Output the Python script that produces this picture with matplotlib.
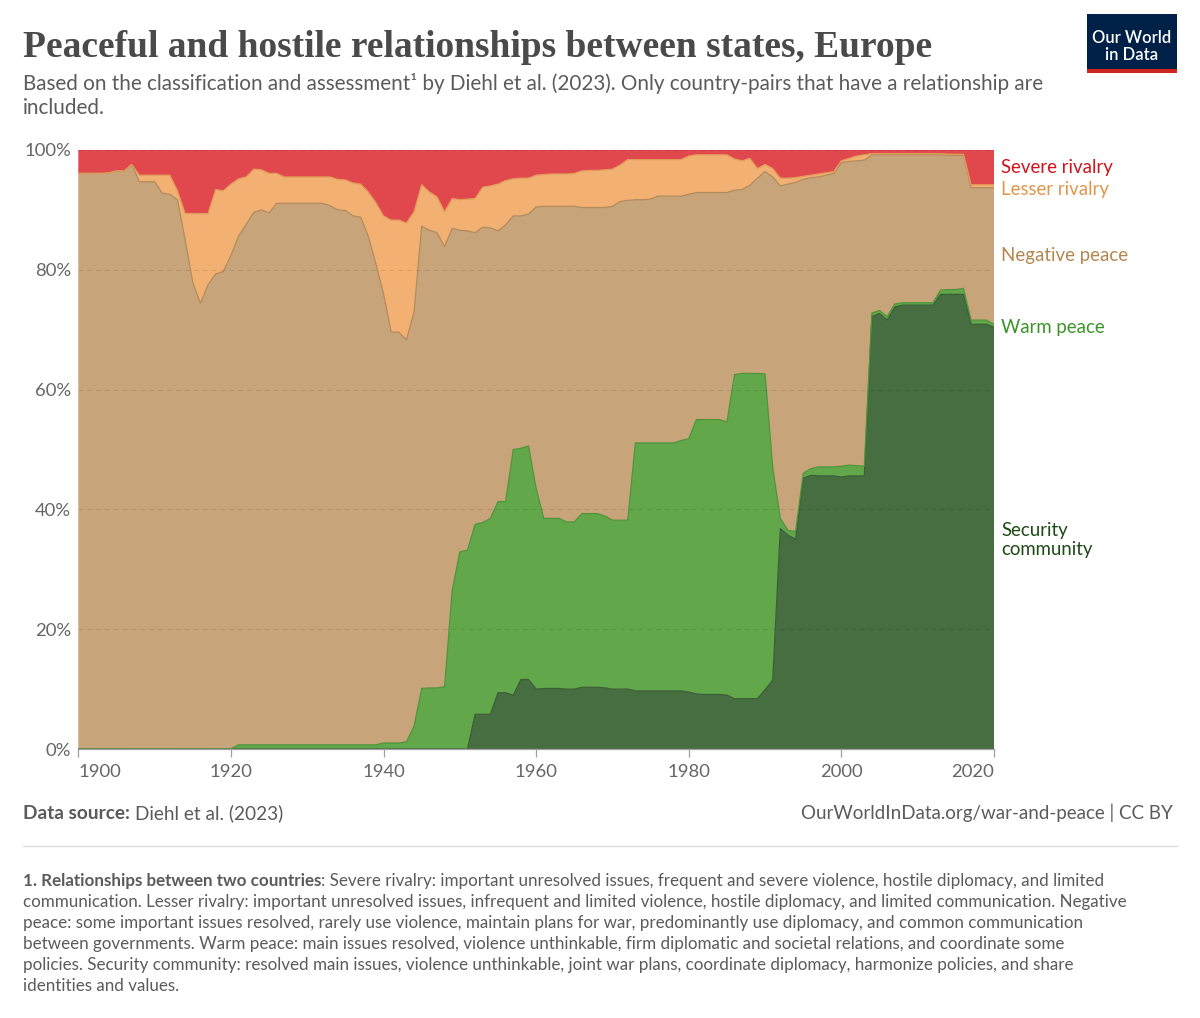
import matplotlib
matplotlib.use("Agg")
import matplotlib.pyplot as plt
import numpy as np
from matplotlib.patches import Rectangle

# ---------------- data (share of country-pairs, %) ----------------
years = list(range(1900, 2021))

security_community = (
    [0.0] * 52 +                                                   # 1900-1951
    [5.8, 5.8, 5.8, 9.4, 9.4, 9.0, 11.6, 11.6,                     # 1952-1959
     10.0, 10.1, 10.1, 10.1, 10.0, 10.0, 10.3, 10.3, 10.3, 10.2,   # 1960s
     10.0, 10.0, 10.0, 9.7, 9.7, 9.7, 9.7, 9.7, 9.7, 9.7,          # 1970s
     9.5, 9.2, 9.1, 9.1, 9.1, 9.0, 8.4, 8.4, 8.4, 8.4,             # 1980s
     9.9, 11.5, 36.8, 35.7, 35.0, 45.2, 45.7, 45.6, 45.6, 45.6,    # 1990s
     45.4, 45.6, 45.6, 45.6, 72.2, 72.7, 71.6, 73.8, 74.1, 74.1,   # 2000s
     74.1, 74.1, 74.1, 75.9, 75.9, 75.9, 75.9, 70.9, 70.9, 70.9,   # 2010s
     70.4]                                                         # 2020
)

warm_peace = (
    [0.0] * 21 +                                                   # 1900-1920
    [0.7] * 19 +                                                   # 1921-1939
    [1.0, 1.0, 1.0, 1.2, 3.8, 10.1, 10.2, 10.2, 10.4, 26.5,        # 1940s
     32.9, 33.2, 31.7, 32.0, 32.7, 31.9, 31.9, 41.0, 38.6, 39.0,   # 1950s
     33.5, 28.4, 28.4, 28.4, 27.9, 27.9, 29.0, 29.0, 29.0, 28.7,   # 1960s
     28.2, 28.2, 28.2, 41.4, 41.4, 41.4, 41.4, 41.4, 41.4, 41.8,   # 1970s
     42.3, 45.8, 45.9, 45.9, 45.9, 45.6, 54.1, 54.3, 54.3, 54.3,   # 1980s
     52.7, 35.5, 1.7, 0.8, 1.3, 0.8, 1.1, 1.5, 1.5, 1.5,           # 1990s
     1.8, 1.8, 1.7, 1.6, 0.6, 0.5, 0.6, 0.5, 0.4, 0.4,             # 2000s
     0.4, 0.4, 0.4, 0.7, 0.8, 0.8, 1.0, 0.7, 0.7, 0.7,             # 2010s
     0.5]                                                          # 2020
)

negative_peace = [
    96.1, 96.1, 96.1, 96.1, 96.2, 96.5, 96.5, 97.6, 94.7, 94.7,    # 1900s
    94.7, 92.8, 92.6, 91.7, 85.0, 77.9, 74.4, 77.5, 79.3, 79.7,    # 1910s
    82.4, 84.9, 86.9, 88.9, 89.3, 88.8, 90.4, 90.4, 90.4, 90.4,    # 1920s
    90.4, 90.4, 90.4, 90.0, 89.3, 89.2, 88.3, 88.1, 84.9, 80.3,    # 1930s
    75.0, 68.6, 68.6, 67.1, 69.2, 77.2, 76.4, 76.0, 73.5, 60.4,    # 1940s
    53.7, 53.3, 48.7, 49.3, 48.5, 45.2, 46.2, 39.0, 38.8, 38.7,    # 1950s
    47.0, 52.1, 52.1, 52.1, 52.7, 52.7, 51.1, 51.1, 51.1, 51.5,    # 1960s
    52.4, 53.2, 53.4, 40.6, 40.6, 40.7, 41.2, 41.2, 41.2, 40.8,    # 1970s
    40.8, 37.9, 37.9, 37.9, 37.9, 38.3, 30.8, 30.7, 31.4, 32.6,    # 1980s
    33.8, 48.5, 55.5, 57.8, 58.3, 49.1, 48.6, 48.4, 48.7, 49.0,    # 1990s
    50.7, 50.7, 50.9, 51.1, 26.4, 26.0, 27.0, 24.9, 24.7, 24.7,    # 2000s
    24.7, 24.7, 24.7, 22.6, 22.4, 22.4, 22.2, 22.1, 22.1, 22.1,    # 2010s
    22.8,                                                          # 2020
]

lesser_rivalry = [
    0.0, 0.0, 0.0, 0.0, 0.0, 0.0, 0.0, 0.0, 1.1, 1.1,              # 1900s
    1.1, 3.0, 3.2, 1.5, 4.4, 11.5, 15.0, 11.9, 14.1, 13.5,         # 1910s
    11.9, 9.6, 7.9, 7.2, 6.7, 6.6, 5.0, 4.4, 4.4, 4.4,             # 1920s
    4.4, 4.4, 4.4, 4.8, 5.1, 5.1, 5.5, 5.5, 7.4, 10.2,             # 1930s
    13.0, 18.7, 18.7, 19.5, 16.7, 6.9, 6.4, 6.0, 5.8, 5.0,         # 1940s
    5.1, 5.3, 5.7, 6.7, 7.0, 7.8, 7.4, 6.2, 6.3, 6.0,              # 1950s
    5.3, 5.3, 5.4, 5.4, 5.4, 5.5, 6.1, 6.2, 6.2, 6.3,              # 1960s
    6.2, 6.1, 6.8, 6.7, 6.7, 6.6, 6.1, 6.1, 6.1, 6.1,              # 1970s
    6.4, 6.3, 6.3, 6.3, 6.3, 6.3, 5.2, 4.8, 4.5, 1.6,              # 1980s
    1.2, 1.4, 1.3, 1.0, 0.8, 0.5, 0.4, 0.5, 0.4, 0.3,              # 1990s
    0.3, 0.5, 0.8, 0.9, 0.2, 0.2, 0.2, 0.2, 0.2, 0.2,              # 2000s
    0.2, 0.2, 0.2, 0.2, 0.2, 0.2, 0.2, 0.5, 0.5, 0.5,              # 2010s
    0.5,                                                           # 2020
]

severe_rivalry = [
    3.9, 3.9, 3.9, 3.9, 3.8, 3.5, 3.5, 2.4, 4.2, 4.2,              # 1900s
    4.2, 4.2, 4.2, 6.8, 10.6, 10.6, 10.6, 10.6, 6.6, 6.8,          # 1910s
    5.7, 4.8, 4.5, 3.2, 3.3, 3.9, 3.9, 4.5, 4.5, 4.5,              # 1920s
    4.5, 4.5, 4.5, 4.5, 4.9, 5.0, 5.5, 5.7, 7.0, 8.8,              # 1930s
    11.0, 11.7, 11.7, 12.2, 10.3, 5.8, 7.0, 7.8, 10.3, 8.1,        # 1940s
    8.3, 8.2, 8.1, 6.2, 6.0, 5.7, 5.1, 4.8, 4.7, 4.7,              # 1950s
    4.2, 4.1, 4.0, 4.0, 4.0, 3.9, 3.5, 3.4, 3.4, 3.3,              # 1960s
    3.2, 2.5, 1.6, 1.6, 1.6, 1.6, 1.6, 1.6, 1.6, 1.6,              # 1970s
    1.0, 0.8, 0.8, 0.8, 0.8, 0.8, 1.5, 1.8, 1.4, 3.1,              # 1980s
    2.4, 3.1, 4.7, 4.7, 4.6, 4.4, 4.2, 4.0, 3.8, 3.6,              # 1990s
    1.8, 1.4, 1.0, 0.8, 0.6, 0.6, 0.6, 0.6, 0.6, 0.6,              # 2000s
    0.6, 0.6, 0.6, 0.6, 0.7, 0.7, 0.7, 5.8, 5.8, 5.8,              # 2010s
    5.8,                                                           # 2020
]

series_names = ["Security community", "Warm peace", "Negative peace",
                "Lesser rivalry", "Severe rivalry"]
fill_colors = ["#466E41", "#63A74B", "#C8A47A", "#F2B072", "#E0484D"]
edge_colors = ["#3B5E37", "#4F9439", "#B38A5C", "#E29A58", "#D03A3F"]
label_colors = ["#1E4A17", "#3A9526", "#B3864F", "#E0964A", "#D0121A"]
x_ticks = [1900, 1920, 1940, 1960, 1980, 2000, 2020]
y_ticks = [0, 20, 40, 60, 80, 100]
y_tick_labels = ["0%", "20%", "40%", "60%", "80%", "100%"]

# ---------------- figure ----------------
W, H = 1200, 1018
fig = plt.figure(figsize=(W / 100, H / 100), dpi=100)
fig.patch.set_facecolor("white")

SANS = ["Lato", "DejaVu Sans"]
SERIF = ["Liberation Serif", "DejaVu Serif"]
GREY = "#5b5b5b"

def px(x, y):
    return x / W, 1 - y / H

def pt(p):
    return p * 0.72

L, R, T, B = 78.3, 994, 150, 749
ax = fig.add_axes([L / W, 1 - B / H, (R - L) / W, (B - T) / H])

data = [security_community, warm_peace, negative_peace, lesser_rivalry, severe_rivalry]
ax.stackplot(years, *data, colors=fill_colors, linewidth=0, zorder=1)
cum = np.cumsum(np.array(data), axis=0)
for i in range(4):
    ax.plot(years, cum[i], color=edge_colors[i], lw=0.9, zorder=2)

ax.set_xlim(1900, 2020)
ax.set_ylim(0, 100)
ax.set_xticks(x_ticks)
ax.set_yticks(y_ticks)
ax.set_yticklabels(y_tick_labels)
for s in ["top", "right", "left"]:
    ax.spines[s].set_visible(False)
ax.spines["bottom"].set_color("#a0a0a0")
ax.spines["bottom"].set_linewidth(0.9)
ax.spines["bottom"].set_zorder(6)
ax.tick_params(axis="y", length=0, pad=5, labelsize=pt(18.5), labelcolor="#666666")
ax.tick_params(axis="x", length=6, width=0.9, color="#a0a0a0", pad=5,
               labelsize=pt(18.5), labelcolor="#666666")
for lab in ax.get_xticklabels() + ax.get_yticklabels():
    lab.set_fontfamily(SANS)
xl = ax.get_xticklabels()
xl[0].set_horizontalalignment("left")
xl[-1].set_horizontalalignment("right")
ax.set_axisbelow(False)
ax.yaxis.grid(True, linestyle=(0, (4, 4)), color="#000000", alpha=0.10, lw=0.8)
ax.xaxis.grid(False)

# right-side labels
right_labels = [("Severe rivalry", 167, 4), ("Lesser rivalry", 189, 3),
                ("Negative peace", 256, 2), ("Warm peace", 327, 1),
                ("Security\ncommunity", 540, 0)]
for text, yy, ci in right_labels:
    fig.text(*px(1001, yy), text, fontsize=pt(18.7), color=label_colors[ci],
             family=SANS, va="center", ha="left", linespacing=1.2)

# ---------------- header ----------------
fig.canvas.draw()
rend = fig.canvas.get_renderer()

def fit(txt, target_w):
    fig.canvas.draw()
    bb = txt.get_window_extent(renderer=rend)
    txt.set_fontsize(txt.get_fontsize() * target_w / bb.width)

title = fig.text(*px(23, 57), "Peaceful and hostile relationships between states, Europe",
                 fontsize=26, fontweight="bold", family=SERIF, color="#4a4a4a",
                 va="baseline", ha="left")
fit(title, 912)

sub1 = fig.text(*px(23, 90), "Based on the classification and assessment\u00b9 by Diehl et al. (2023). "
                "Only country-pairs that have a relationship are",
                fontsize=pt(19), family=SANS, color=GREY, va="baseline", ha="left")
fit(sub1, 1017)
fig.text(*px(23, 114), "included.", fontsize=sub1.get_fontsize(), family=SANS,
         color=GREY, va="baseline", ha="left")

# logo
logo = Rectangle(px(1087, 73), 90 / W, 59 / H, transform=fig.transFigure,
                 facecolor="#002147", edgecolor="none")
fig.add_artist(logo)
band = Rectangle(px(1087, 73), 90 / W, 4 / H, transform=fig.transFigure,
                 facecolor="#CE261E", edgecolor="none")
fig.add_artist(band)
fig.text(*px(1132, 38), "Our World", fontsize=pt(16.5), color="white", family=SANS,
         ha="center", va="center", fontweight="semibold")
fig.text(*px(1132, 55), "in Data", fontsize=pt(16.5), color="white", family=SANS,
         ha="center", va="center", fontweight="semibold")

# ---------------- footer ----------------
fig.canvas.draw()
ffs = pt(19)
FB = 819
ds_b = fig.text(*px(23, FB), "Data source:", fontsize=ffs, fontweight="bold",
                family=SANS, color=GREY, va="baseline", ha="left")
fig.canvas.draw()
bb = ds_b.get_window_extent(renderer=rend)
fig.text((bb.x1 + 5) / W, 1 - FB / H, "Diehl et al. (2023)", fontsize=ffs,
         family=SANS, color=GREY, va="baseline", ha="left")
url = fig.text(*px(1173, FB), "OurWorldInData.org/war-and-peace | CC BY", fontsize=ffs,
               family=SANS, color=GREY, va="baseline", ha="right")
fit(url, 372)

fig.add_artist(plt.Line2D([23 / W, 1177 / W], [1 - 846 / H, 1 - 846 / H],
                          transform=fig.transFigure, color="#dddddd", lw=1))

notes = [
    ": Severe rivalry: important unresolved issues, frequent and severe violence, hostile diplomacy, and limited",
    "communication. Lesser rivalry: important unresolved issues, infrequent and limited violence, hostile diplomacy, and limited communication. Negative",
    "peace: some important issues resolved, rarely use violence, maintain plans for war, predominantly use diplomacy, and common communication",
    "between governments. Warm peace: main issues resolved, violence unthinkable, firm diplomatic and societal relations, and coordinate some",
    "policies. Security community: resolved main issues, violence unthinkable, joint war plans, coordinate diplomacy, harmonize policies, and share",
    "identities and values.",
]
NB0 = 886
line2 = fig.text(*px(23, NB0 + 21), notes[1], fontsize=pt(16), family=SANS, color=GREY,
                 va="baseline", ha="left")
fit(line2, 1100)
nfs = line2.get_fontsize()
nb = fig.text(*px(23, NB0), "1. Relationships between two countries", fontsize=nfs,
              fontweight="bold", family=SANS, color=GREY, va="baseline", ha="left")
fig.canvas.draw()
bb = nb.get_window_extent(renderer=rend)
fig.text(bb.x1 / W, 1 - NB0 / H, notes[0], fontsize=nfs, family=SANS, color=GREY,
         va="baseline", ha="left")
for i, line in enumerate(notes[2:], start=2):
    fig.text(*px(23, NB0 + 21 * i), line, fontsize=nfs, family=SANS, color=GREY,
             va="baseline", ha="left")

fig.savefig("out.png", dpi=100, facecolor="white")
